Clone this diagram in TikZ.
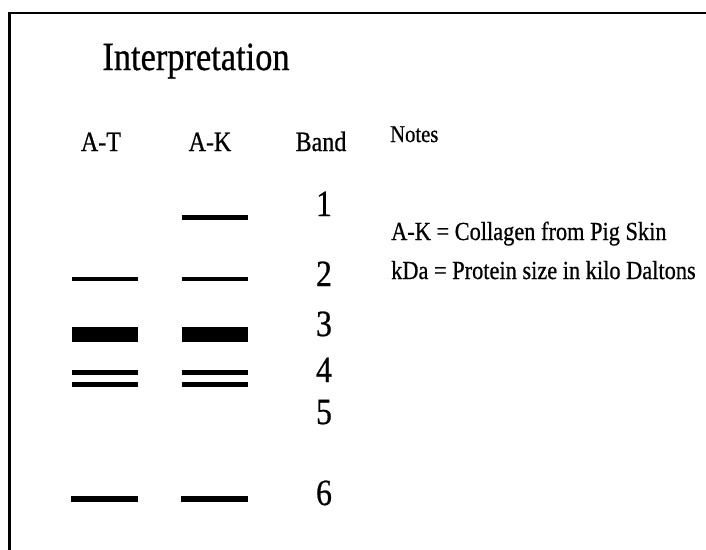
\documentclass[tikz,border=0pt]{standalone}
\usepackage{fontspec}
\setmainfont{Liberation Serif}
\newfontfamily\heavyserif[FakeBold=0.7]{Liberation Serif}
\newcommand{\cnd}[1]{\scalebox{0.86}[1]{#1}}
\begin{document}
\begin{tikzpicture}[x=1pt,y=-1pt,
  txt/.style={anchor=base,inner sep=0pt,text=black},
  title/.style={txt,font=\heavyserif\fontsize{40}{44}\selectfont},
  head/.style={txt,font=\heavyserif\fontsize{28}{32}\selectfont},
  num/.style={txt,font=\heavyserif\fontsize{37}{40}\selectfont},
  note/.style={txt,anchor=base west,font=\heavyserif\fontsize{26}{30}\selectfont},
  band/.style={line width=#1,black},
  band/.default=5pt]
\useasboundingbox (0,0) rectangle (706,549);
\fill[white] (0,0) rectangle (706,549);
% frame
\draw[line width=2.5pt] (9.7,560) -- (9.7,13) -- (720,13);
% title
\node[title] (title) at (196,70) {\cnd{Interpretation}};
% headers
\node[head] (hAT) at (101,151) {\cnd{A-T}};
\node[head] (hAK) at (210,151) {\cnd{A-K}};
\node[head] (hB) at (321,151) {\cnd{Band}};
\node[note,font=\heavyserif\fontsize{24}{28}\selectfont] (hN) at (390,142) {\cnd{Notes}};
% band numbers
\node[num] (n1) at (324,216) {\cnd{1}};
\node[num] (n2) at (324,286) {\cnd{2}};
\node[num] (n3) at (324,336) {\cnd{3}};
\node[num] (n4) at (324,382) {\cnd{4}};
\node[num] (n5) at (324,424) {\cnd{5}};
\node[num] (n6) at (324,505) {\cnd{6}};
% notes
\node[note] (note1) at (391,240) {\cnd{A-K = Collagen from Pig Skin}};
\node[note] (note2) at (391,279) {\cnd{kDa = Protein size in kilo Daltons}};
% bands
\draw[band=5pt] (182,217.7) -- (248,217.7);
\draw[band=4pt] (72,279) -- (138,279);
\draw[band=4pt] (182,279) -- (248,279);
\draw[band=15pt] (72,334.5) -- (138,334.5);
\draw[band=15pt] (182,334.5) -- (248,334.5);
\draw[band=5pt] (72,372.7) -- (138,372.7);
\draw[band=5pt] (182,372.7) -- (248,372.7);
\draw[band=5pt] (72,384) -- (138,384);
\draw[band=5pt] (182,384) -- (248,384);
\draw[band=6pt] (71,499) -- (138,499);
\draw[band=6pt] (181,499) -- (248,499);
\end{tikzpicture}
\end{document}
